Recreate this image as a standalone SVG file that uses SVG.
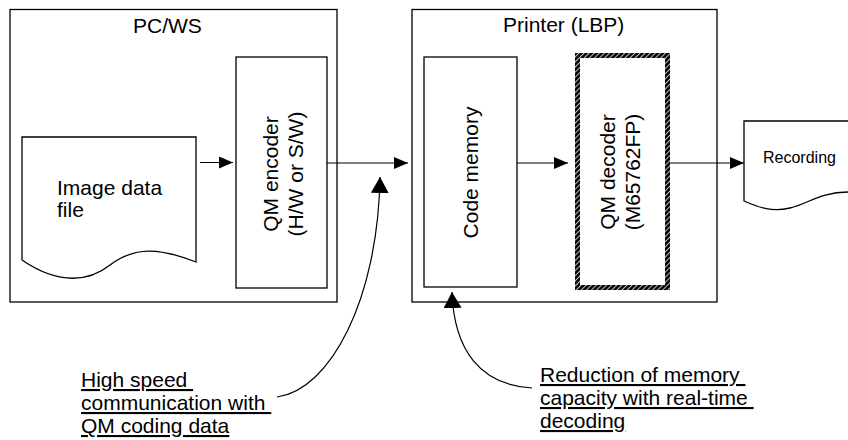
<svg xmlns="http://www.w3.org/2000/svg" width="848" height="440" viewBox="0 0 848 440">
<style>
  .box { fill: #fff; stroke: #000; stroke-width: 1.3; }
  .doc { fill: #fff; stroke: #000; stroke-width: 1.3; }
  .t { font-family: "Liberation Sans", Arial, sans-serif; font-size: 21px; fill: #000; }
  .ts { font-family: "Liberation Sans", Arial, sans-serif; font-size: 16px; fill: #000; }
  .u { text-decoration: underline; }
  .ln { fill: none; stroke: #000; stroke-width: 1.2; }
</style>
<defs>
  <marker id="ah" markerUnits="userSpaceOnUse" markerWidth="14" markerHeight="12" refX="14" refY="6" orient="auto">
    <path d="M0,0 L14,6 L0,12 z" fill="#000"/>
  </marker>
  <marker id="big" markerUnits="userSpaceOnUse" markerWidth="16" markerHeight="18" refX="16" refY="9" orient="auto-start-reverse">
    <path d="M0,0 L16,9 L0,18 z" fill="#000"/>
  </marker>
  <pattern id="hatch" patternUnits="userSpaceOnUse" width="3.6" height="3.6" patternTransform="rotate(45)">
    <rect width="3.6" height="3.6" fill="#000"/>
    <rect width="1" height="3.6" fill="#c8c8c8"/>
  </pattern>
</defs>

<g id="pcws">
  <rect class="box" x="10" y="9.5" width="327" height="292.5"/>
  <text class="t" x="133" y="33">PC/WS</text>
</g>

<g id="imagefile">
  <path class="doc" d="M22,260 V137 H196 V262 C160,248 135,246 110,265 C90,281 60,286 22,260 Z"/>
  <text class="t" x="57" y="195">Image data</text>
  <text class="t" x="57" y="217">file</text>
</g>

<g id="encoder">
  <rect class="box" x="236" y="57" width="91" height="231"/>
  <text class="t" text-anchor="middle" transform="translate(278,174) rotate(-90)">QM encoder</text>
  <text class="t" text-anchor="middle" transform="translate(303,174) rotate(-90)">(H/W or S/W)</text>
</g>

<g id="printer">
  <rect class="box" x="412" y="9.5" width="305" height="292.5"/>
  <text class="t" x="503" y="32">Printer (LBP)</text>
</g>

<g id="codememory">
  <rect class="box" x="424" y="57" width="93" height="230"/>
  <text class="t" text-anchor="middle" transform="translate(478,172.5) rotate(-90)">Code memory</text>
</g>

<g id="decoder">
  <rect x="577.5" y="55.5" width="90" height="232" fill="#fff" stroke="url(#hatch)" stroke-width="5"/>
  <text class="t" text-anchor="middle" transform="translate(615,172) rotate(-90)">QM decoder</text>
  <text class="t" text-anchor="middle" transform="translate(640,172) rotate(-90)">(M65762FP)</text>
</g>

<g id="recording">
  <path class="doc" d="M848,121 H744 V201 C760,208 772,212 790,208 C808,204 820,192 848,192"/>
  <text class="ts" x="763" y="163">Recording</text>
</g>

<g id="label-highspeed">
  <text class="t u" x="81" y="387">High speed&#160;</text>
  <text class="t u" x="81" y="410">communication with&#160;</text>
  <text class="t u" x="81" y="433">QM coding data</text>
</g>

<g id="label-reduction">
  <text class="t u" x="540" y="382">Reduction of memory&#160;</text>
  <text class="t u" x="540" y="405">capacity with real-time&#160;</text>
  <text class="t u" x="540" y="428">decoding</text>
</g>

<g id="connectors">
  <line class="ln" x1="200" y1="162.5" x2="233" y2="162.5" marker-end="url(#ah)"/>
  <line class="ln" x1="327" y1="163" x2="408" y2="163" marker-end="url(#ah)"/>
  <line class="ln" x1="517" y1="163" x2="568" y2="163" marker-end="url(#ah)"/>
  <line class="ln" x1="670" y1="163" x2="744" y2="163" marker-end="url(#ah)"/>
  <path class="ln" d="M380,177 C378,300 330,390 277,397" marker-start="url(#big)"/>
  <path class="ln" d="M452,292 C454,350 480,385 532,388" marker-start="url(#big)"/>
</g>
</svg>
